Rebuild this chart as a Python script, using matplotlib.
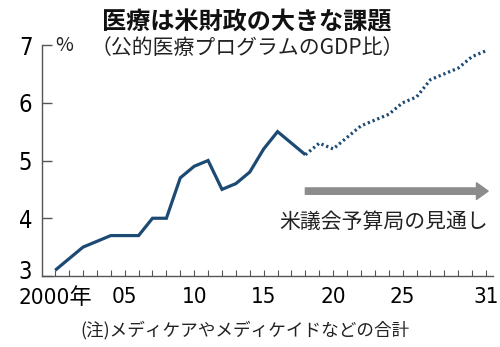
import matplotlib
matplotlib.use('Agg')
import matplotlib.pyplot as plt
from matplotlib import transforms

plt.rcParams['font.family'] = ['DejaVu Sans', 'Noto Sans CJK JP']
plt.rcParams['font.stretch'] = 'condensed'

# 実績 (2000-2018)
years_actual = list(range(2000, 2019))
share_actual = [3.1, 3.3, 3.5, 3.6, 3.7, 3.7, 3.7, 4.0, 4.0, 4.7, 4.9, 5.0,
                4.5, 4.6, 4.8, 5.2, 5.5, 5.3, 5.1]

# 米議会予算局の見通し (2018-2031)
years_proj = list(range(2018, 2032))
share_proj = [5.1, 5.3, 5.2, 5.4, 5.6, 5.7, 5.8, 6.0, 6.1, 6.4, 6.5, 6.6, 6.8, 6.9]

xtick_pos = [2000, 2005, 2010, 2015, 2020, 2025, 2031]
xtick_labels = ['2000年', '05', '10', '15', '20', '25', '31']
ytick_pos = [3, 4, 5, 6, 7]

line_color = '#1c4a73'
axis_color = '#555555'
jp = ['Noto Sans CJK JP', 'DejaVu Sans']

fig = plt.figure(figsize=(5, 3.47), dpi=100)
ax = fig.add_axes([0.084, 0.2046, 0.902, 0.6657])

ax.plot(years_actual, share_actual, color=line_color, lw=2.3,
        solid_joinstyle='miter', solid_capstyle='butt')
ax.plot(years_proj, share_proj, color=line_color, lw=2.3,
        linestyle=(0, (0.7, 0.9)), dash_capstyle='butt')

ax.set_xlim(1999.05, 2031.5)
ax.set_ylim(3, 7)

for s in ['top', 'right']:
    ax.spines[s].set_visible(False)
for s in ['left', 'bottom']:
    ax.spines[s].set_color(axis_color)
    ax.spines[s].set_linewidth(1.0)

ax.set_xticks(range(2000, 2032), minor=True)
ax.set_xticks(xtick_pos)
ax.set_xticklabels(xtick_labels)
ax.set_yticks(ytick_pos)
ax.tick_params(axis='x', which='both', direction='in', length=4, width=0.8,
               color=axis_color, labelsize=16, pad=8)
ax.tick_params(axis='y', direction='in', length=7, width=1.0,
               color=axis_color, labelsize=17, pad=7)
# 一番下の「3」は少し上げる
lab3 = ax.get_yticklabels()[0]
lab3.set_transform(lab3.get_transform() +
                   transforms.ScaledTranslation(0, 7 / 100, fig.dpi_scale_trans))

# 見通しの矢印
arrow_y = 4.47
ax.annotate('', xy=(2031.15, arrow_y), xytext=(2018, arrow_y),
            arrowprops=dict(arrowstyle='simple,head_width=1.0,head_length=0.7,tail_width=0.38',
                            color='#8c8c8c', mutation_scale=12, shrinkA=0, shrinkB=0))
ax.text(2031.15, 3.93, '米議会予算局の見通し', family=jp, fontsize=15,
        ha='right', va='center', color='#222222')

ax.text(0.03, 1.0, '%', transform=ax.transAxes, fontsize=14, family=jp,
        ha='left', va='center', color='#222222')

fig.text(0.494, 0.935, '医療は米財政の大きな課題', family=jp, fontsize=17.4,
         fontweight='bold', ha='center', va='center', color='#111111')
fig.text(0.494, 0.862, '（公的医療プログラムのGDP比）', family=jp, fontsize=15,
         ha='center', va='center', color='#222222')
fig.text(0.49, 0.05, '(注)メディケアやメディケイドなどの合計', family=jp, fontsize=12.7,
         ha='center', va='center', color='#222222')

fig.savefig('out.png', dpi=100)
